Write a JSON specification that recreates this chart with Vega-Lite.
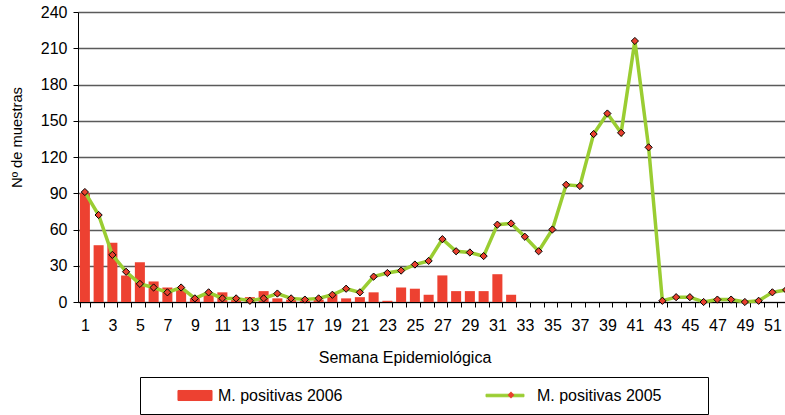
{
  "$schema": "https://vega.github.io/schema/vega-lite/v6.json",
  "width": 715,
  "height": 290,
  "autosize": {"type": "none"},
  "padding": {"left": 78, "top": 12, "right": 0, "bottom": 113},
  "background": "white",
  "config": {"view": {"stroke": null}, "font": "Liberation Sans"},
  "data": {
    "values": [
      {"semana": 1, "m2006": 90, "m2005": 91},
      {"semana": 2, "m2006": 47, "m2005": 72},
      {"semana": 3, "m2006": 49, "m2005": 39},
      {"semana": 4, "m2006": 22, "m2005": 25},
      {"semana": 5, "m2006": 33, "m2005": 15},
      {"semana": 6, "m2006": 17, "m2005": 12},
      {"semana": 7, "m2006": 12, "m2005": 8},
      {"semana": 8, "m2006": 10, "m2005": 12},
      {"semana": 9, "m2006": 3, "m2005": 3},
      {"semana": 10, "m2006": 6, "m2005": 8},
      {"semana": 11, "m2006": 8, "m2005": 3},
      {"semana": 12, "m2006": 2, "m2005": 3},
      {"semana": 13, "m2006": 4, "m2005": 1},
      {"semana": 14, "m2006": 9, "m2005": 3},
      {"semana": 15, "m2006": 3, "m2005": 7},
      {"semana": 16, "m2006": 2, "m2005": 3},
      {"semana": 17, "m2006": 1, "m2005": 2},
      {"semana": 18, "m2006": 2, "m2005": 3},
      {"semana": 19, "m2006": 6, "m2005": 6},
      {"semana": 20, "m2006": 3, "m2005": 11},
      {"semana": 21, "m2006": 4, "m2005": 8},
      {"semana": 22, "m2006": 8, "m2005": 21},
      {"semana": 23, "m2006": 1, "m2005": 24},
      {"semana": 24, "m2006": 12, "m2005": 26},
      {"semana": 25, "m2006": 11, "m2005": 31},
      {"semana": 26, "m2006": 6, "m2005": 34},
      {"semana": 27, "m2006": 22, "m2005": 52},
      {"semana": 28, "m2006": 9, "m2005": 42},
      {"semana": 29, "m2006": 9, "m2005": 41},
      {"semana": 30, "m2006": 9, "m2005": 38},
      {"semana": 31, "m2006": 23, "m2005": 64},
      {"semana": 32, "m2006": 6, "m2005": 65},
      {"semana": 33, "m2006": null, "m2005": 54},
      {"semana": 34, "m2006": null, "m2005": 42},
      {"semana": 35, "m2006": null, "m2005": 60},
      {"semana": 36, "m2006": null, "m2005": 97},
      {"semana": 37, "m2006": null, "m2005": 96},
      {"semana": 38, "m2006": null, "m2005": 139},
      {"semana": 39, "m2006": null, "m2005": 156},
      {"semana": 40, "m2006": null, "m2005": 140},
      {"semana": 41, "m2006": null, "m2005": 216},
      {"semana": 42, "m2006": null, "m2005": 128},
      {"semana": 43, "m2006": null, "m2005": 1},
      {"semana": 44, "m2006": null, "m2005": 4},
      {"semana": 45, "m2006": null, "m2005": 4},
      {"semana": 46, "m2006": null, "m2005": 0},
      {"semana": 47, "m2006": null, "m2005": 2},
      {"semana": 48, "m2006": null, "m2005": 2},
      {"semana": 49, "m2006": null, "m2005": 0},
      {"semana": 50, "m2006": null, "m2005": 1},
      {"semana": 51, "m2006": null, "m2005": 8},
      {"semana": 52, "m2006": null, "m2005": 10}
    ]
  },
  "encoding": {
    "x": {
      "field": "semana",
      "type": "ordinal",
      "scale": {"paddingInner": 0.27, "paddingOuter": 0.135},
      "axis": {
        "title": "Semana Epidemiológica",
        "titleFont": "Liberation Sans",
        "titleFontSize": 16,
        "titleFontWeight": "normal",
        "titleColor": "#000",
        "titleX": 326.5,
        "titleY": 60,
        "titleAlign": "center",
        "titleBaseline": "alphabetic",
        "labelAngle": 0,
        "labelFont": "Liberation Sans",
        "labelFontSize": 16,
        "labelColor": "#000",
        "labelPadding": 10,
        "labelOverlap": false,
        "labelExpr": "datum.value % 2 === 1 ? datum.label : ''",
        "tickSize": 5,
        "tickColor": "#000",
        "tickBand": "extent",
        "domainColor": "#000",
        "grid": false
      }
    }
  },
  "layer": [
    {
      "mark": {"type": "bar"},
      "encoding": {
        "y": {
          "field": "m2006",
          "type": "quantitative",
          "title": "Nº de muestras",
          "scale": {"domain": [0, 240], "nice": false},
          "axis": {
            "values": [0, 30, 60, 90, 120, 150, 180, 210, 240],
            "tickCount": 12,
            "labelOverlap": false,
            "title": "Nº de muestras",
            "titleFont": "Liberation Sans",
            "titleFontSize": 14.7,
            "titleFontWeight": "normal",
            "titleColor": "#000",
            "titleX": -57,
            "titleY": 125,
            "titleAngle": -90,
            "titleAlign": "center",
            "titleBaseline": "alphabetic",
            "labelFont": "Liberation Sans",
            "labelFontSize": 16,
            "labelColor": "#000",
            "labelPadding": 6,
            "tickSize": 5,
            "tickColor": "#000",
            "domainColor": "#000",
            "grid": true,
            "gridColor": "#5a5a5a",
            "gridWidth": 1.6
          }
        },
        "color": {
          "datum": "M. positivas 2006",
          "scale": {
            "domain": ["M. positivas 2006", "M. positivas 2005"],
            "range": ["#ED4131", "#9ACD32"]
          },
          "legend": {
            "orient": "none",
            "legendX": 62,
            "legendY": 365,
            "direction": "horizontal",
            "title": "\u00a0",
            "titleOrient": "right",
            "titlePadding": 36,
            "titleFontSize": 16,
            "padding": 10.5,
            "strokeColor": "#000",
            "fillColor": "#fff",
            "symbolType": "M-2.27,-0.67H2.27V0.67H-2.27Z",
            "symbolSize": 225,
            "symbolStrokeWidth": 1,
            "symbolOffset": 36.5,
            "labelOffset": 15,
            "columnPadding": 117,
            "labelFont": "Liberation Sans",
            "labelFontSize": 16,
            "labelColor": "#000",
            "labelLimit": 400,
            "encode": {
              "symbols": {
                "update": {
                  "shape": {"signal": "datum.value === 'M. positivas 2005' ? 'M-2.53,-0.17H2.53V0.17H-2.53Z' : 'M-2.27,-0.67H2.27V0.67H-2.27Z'"},
                  "fill": {"signal": "datum.value === 'M. positivas 2005' ? '#9ACD32' : '#ED4131'"},
                  "stroke": {"signal": "datum.value === 'M. positivas 2005' ? '#9ACD32' : '#4a1810'"},
                  "opacity": {"value": 1}
                }
              },
              "labels": {
                "update": {
                  "dx": {"signal": "datum.value === 'M. positivas 2005' ? 9 : 0"}
                }
              }
            }
          }
        }
      }
    },
    {
      "mark": {"type": "line", "strokeWidth": 3.5},
      "encoding": {
        "y": {"field": "m2005", "type": "quantitative", "title": "Nº de muestras"},
        "color": {"datum": "M. positivas 2005"}
      }
    },
    {
      "mark": {
        "type": "point",
        "filled": true,
        "fill": "#E8402F",
        "stroke": "#000",
        "strokeWidth": 1,
        "size": 52,
        "opacity": 1
      },
      "encoding": {
        "y": {"field": "m2005", "type": "quantitative", "title": "Nº de muestras"},
        "shape": {
          "datum": "M. positivas 2005",
          "scale": {"range": ["diamond"]},
          "legend": {
            "orient": "none",
            "legendX": 429,
            "legendY": 379,
            "title": null,
            "padding": 0,
            "symbolType": "diamond",
            "symbolSize": 46,
            "symbolFillColor": "#E8402F",
            "symbolStrokeColor": "#000",
            "symbolStrokeWidth": 1,
            "labelFontSize": 1,
            "labelExpr": "''",
            "encode": {
              "symbols": {
                "update": {
                  "fill": {"value": "#E8402F"},
                  "stroke": {"value": "#000"},
                  "opacity": {"value": 1}
                }
              }
            }
          }
        }
      }
    }
  ]
}
